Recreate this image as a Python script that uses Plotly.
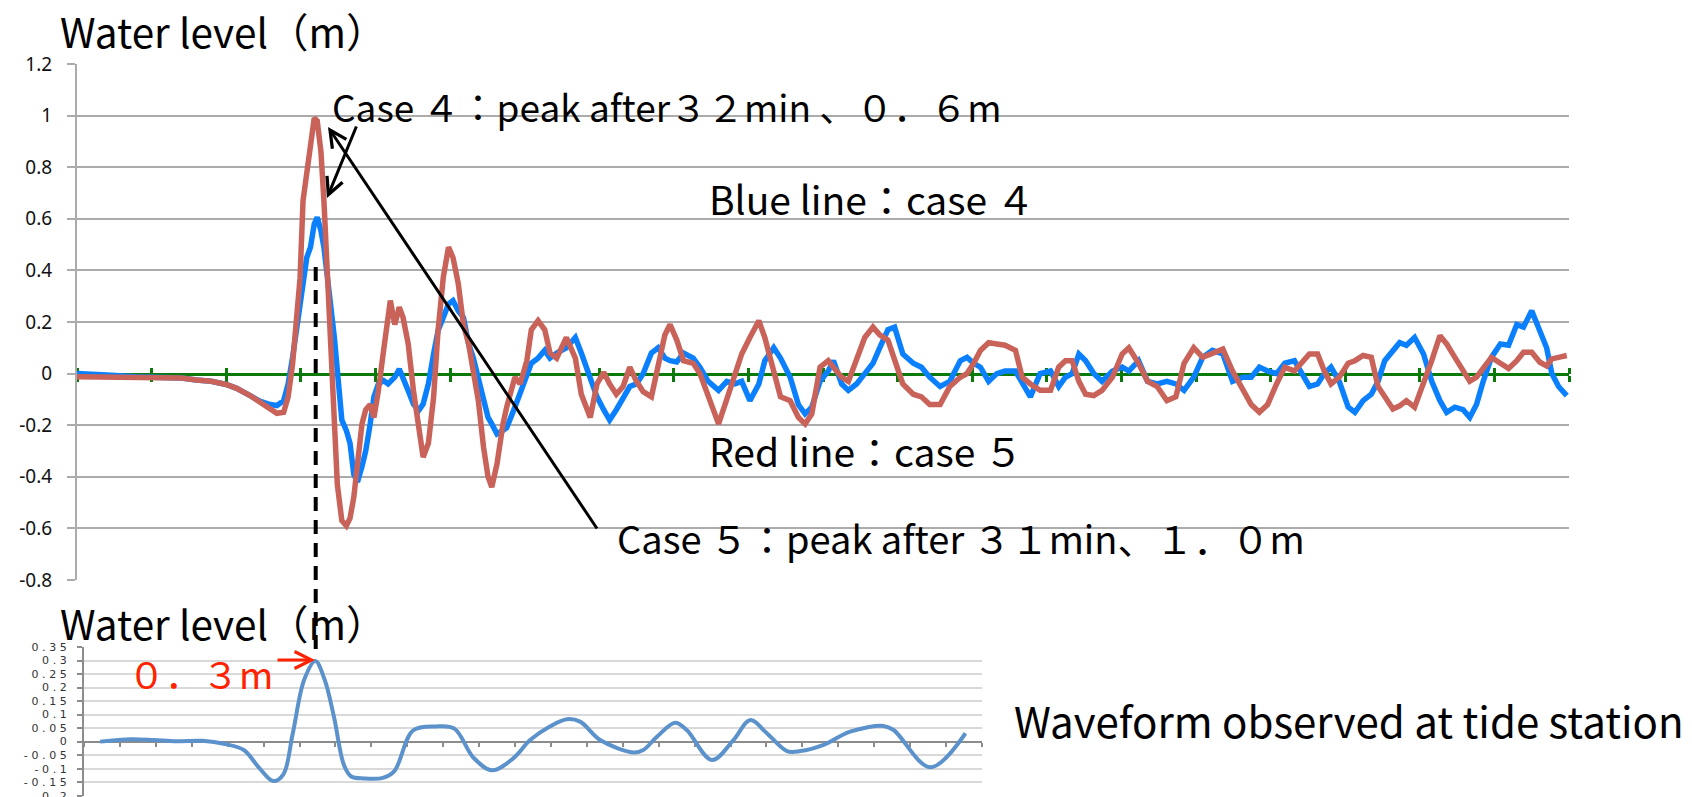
import plotly.graph_objects as go

# Browser body has an 8px default margin: the figure is sized so that it ends
# exactly at the 1692x797 viewport edge, and all pixel positions below are
# given in viewport pixels.
VIEW_W, VIEW_H = 1692, 797
OFF = 8
W, H = VIEW_W - OFF, VIEW_H - OFF

# ---------------- data: simulated water level (upper chart) ----------------
minutes = [
    0, 2, 4, 8, 12, 14, 16, 18, 20, 21.4,
    23.2, 24.5, 25.9, 26.8, 27.7, 28.3, 28.9, 29.4, 29.9, 30.3,
    30.8, 31.3, 31.8, 32.2, 32.7, 33.1, 33.6, 34.0, 34.5, 34.9,
    35.5, 36.1, 36.6, 37.1, 37.6, 38.2, 38.7, 39.3, 39.8, 40.4,
    41.1, 41.7, 42.0, 42.6, 43.2, 43.7, 44.4, 45.1, 45.8, 46.4,
    47.1, 47.8, 48.4, 49.1, 49.8, 50.4, 51.1, 51.8, 52.5, 53.1,
    53.8, 54.5, 55.1, 55.6, 56.3, 57.1, 57.6, 58.7, 59.4, 60.3,
    60.9, 61.8, 62.7, 63.4, 64.3, 65.6, 66.8, 67.6, 68.8, 69.7,
    70.6, 71.4, 72.3, 73.2, 74.1, 75.0, 75.9, 77.0, 77.9, 78.8,
    79.5, 80.4, 81.3, 82.6, 83.5, 84.6, 86.0, 87.1, 88.2, 89.1,
    90.2, 91.4, 92.2, 93.4, 94.3, 95.6, 96.7, 97.6, 98.5, 99.6,
    100.7, 101.4, 102.5, 103.4, 104.5, 105.6, 106.7, 107.6, 108.7, 109.6,
    110.7, 112.1, 113.2, 114.3, 115.7, 117.0, 118.4, 119.3, 120.2, 121.1,
    122.2, 123.3, 124.4, 125.8, 126.7, 127.8, 129.1, 130.5, 131.6, 132.5,
    133.4, 134.3, 135.2, 136.3, 137.4, 138.8, 140.1, 141.0, 142.3, 143.5,
    144.8, 146.1, 147.3, 148.4, 149.7, 150.9, 152.2, 153.6, 154.9, 156.3,
    157.4, 158.5, 159.6, 160.8, 161.9, 163.2, 165.2, 166.3, 167.2, 168.1,
    169.2, 170.4, 171.3, 172.4, 173.5, 174.4, 175.3, 176.4, 177.3, 178.2,
    179.3, 180.5, 181.6, 182.7, 183.6, 184.7, 185.8, 186.7, 187.6, 188.5,
    189.6, 190.8, 191.9, 193.0, 193.9, 195.0, 196.1, 197.0, 197.7, 198.6, 199.7,
]

case4_level = [
    0.0, 0.0, -0.005, -0.012, -0.012, -0.017, -0.025, -0.03, -0.042, -0.057,
    -0.085, -0.107, -0.12, -0.124, -0.105, -0.04, 0.063, 0.167, 0.26, 0.37,
    0.45, 0.49, 0.58, 0.606, 0.554, 0.49, 0.37, 0.26, 0.14, 0.012,
    -0.18, -0.22, -0.27, -0.39, -0.42, -0.36, -0.30, -0.195, -0.09, -0.04,
    -0.027, -0.04, -0.03, -0.014, 0.018, -0.014, -0.066, -0.118, -0.143, -0.118,
    -0.04, 0.076, 0.167, 0.218, 0.27, 0.283, 0.244, 0.218, 0.115, 0.063,
    -0.014, -0.105, -0.17, -0.195, -0.234, -0.22, -0.21, -0.13, -0.08, -0.014,
    0.04, 0.06, 0.09, 0.06, 0.08, 0.10, 0.14, 0.08, -0.014, -0.09,
    -0.14, -0.18, -0.14, -0.09, -0.05, -0.04, 0.0, 0.08, 0.10, 0.06,
    0.05, 0.045, 0.08, 0.06, 0.025, -0.03, -0.065, -0.03, -0.04, -0.03,
    -0.105, -0.04, 0.05, 0.10, 0.06, -0.014, -0.12, -0.156, -0.13, -0.03,
    0.01, 0.05, -0.04, -0.065, -0.04, 0.0, 0.04, 0.10, 0.17, 0.18,
    0.076, 0.04, 0.025, -0.014, -0.05, -0.03, 0.05, 0.063, 0.04, 0.025,
    -0.03, 0.0, 0.01, 0.01, -0.04, -0.09, 0.0, 0.01, -0.05, -0.014,
    0.0, 0.076, 0.05, 0.0, -0.03, 0.01, 0.025, 0.01, 0.05, -0.03,
    -0.04, -0.03, -0.04, -0.065, -0.014, 0.063, 0.09, 0.076, -0.03, -0.014,
    -0.014, 0.025, 0.01, 0.0, 0.04, 0.05, -0.05, -0.04, 0.0, 0.025,
    -0.03, -0.13, -0.15, -0.105, -0.08, -0.03, 0.05, 0.09, 0.12, 0.11,
    0.14, 0.076, -0.03, -0.105, -0.15, -0.13, -0.14, -0.17, -0.12, -0.03,
    0.063, 0.115, 0.11, 0.19, 0.18, 0.244, 0.167, 0.10, 0.0, -0.05, -0.085,
]

case5_level = [
    -0.012, -0.012, -0.012, -0.012, -0.013, -0.017, -0.025, -0.03, -0.042, -0.057,
    -0.085, -0.11, -0.14, -0.154, -0.15, -0.09, 0.037, 0.19, 0.37, 0.67,
    0.79, 0.90, 0.99, 0.98, 0.86, 0.67, 0.37, 0.063, -0.195, -0.43,
    -0.57, -0.59, -0.56, -0.48, -0.35, -0.195, -0.14, -0.12, -0.17, -0.066,
    0.09, 0.244, 0.283, 0.19, 0.257, 0.218, 0.115, -0.066, -0.22, -0.324,
    -0.27, -0.092, 0.167, 0.373, 0.49, 0.45, 0.35, 0.19, 0.115, 0.012,
    -0.105, -0.286, -0.40, -0.44, -0.35, -0.195, -0.13, -0.014, -0.04, 0.05,
    0.17, 0.205, 0.17, 0.08, 0.06, 0.14, 0.06, -0.08, -0.17, -0.04,
    0.005, -0.04, -0.08, -0.05, 0.025, -0.03, -0.07, -0.09, 0.025, 0.15,
    0.19, 0.13, 0.05, 0.04, 0.0, -0.08, -0.195, -0.10, 0.0, 0.076,
    0.14, 0.205, 0.14, 0.0, -0.09, -0.105, -0.17, -0.195, -0.156, 0.025,
    0.05, 0.025, -0.014, -0.03, 0.05, 0.14, 0.18, 0.15, 0.13, 0.05,
    -0.04, -0.08, -0.09, -0.12, -0.12, -0.05, -0.014, 0.0, 0.04, 0.09,
    0.12, 0.115, 0.11, 0.09, -0.014, -0.04, -0.065, -0.065, 0.025, 0.05,
    0.05, -0.03, -0.08, -0.085, -0.065, -0.014, 0.076, 0.10, 0.04, -0.03,
    -0.05, -0.105, -0.09, 0.04, 0.10, 0.063, 0.076, 0.095, 0.01, -0.065,
    -0.12, -0.15, -0.12, -0.04, 0.025, 0.01, 0.076, 0.076, 0.01, -0.04,
    -0.014, 0.04, 0.05, 0.07, 0.063, -0.05, -0.09, -0.137, -0.125, -0.105,
    -0.13, -0.04, 0.05, 0.147, 0.115, 0.063, 0.01, -0.03, -0.014, 0.02,
    0.063, 0.04, 0.02, 0.05, 0.083, 0.083, 0.044, 0.03, 0.057, 0.063, 0.07,
]

assert len(minutes) == len(case4_level) == len(case5_level)

top_y_ticks = [1.2, 1.0, 0.8, 0.6, 0.4, 0.2, 0.0, -0.2, -0.4, -0.6, -0.8]
top_y_labels = ["1.2", "1", "0.8", "0.6", "0.4", "0.2", "0", "-0.2", "-0.4", "-0.6", "-0.8"]
top_x_ticks = list(range(0, 201, 10))

# ---------------- data: observed waveform (lower chart) ----------------
tide_x = [
    0.45, 1.31, 1.94, 2.57, 3.3, 3.93, 4.45, 4.87, 5.27, 5.55,
    5.81, 6.13, 6.44, 6.70, 6.96, 7.23, 7.43, 7.8, 8.32, 8.64,
    9.16, 9.79, 10.31, 10.84, 11.36, 11.95, 12.42, 12.97, 13.44, 13.81,
    14.37, 15.29, 15.57, 15.95, 16.46, 16.78, 17.48, 18.08, 18.55, 19.01,
    19.57, 19.94, 20.59, 21.33, 22.26, 22.54, 23.56, 24.54,
]
tide_level = [
    0.0, 0.009, 0.006, 0.001, 0.003, -0.009, -0.031, -0.096, -0.146, -0.121,
    0.029, 0.229, 0.298, 0.229, 0.091, -0.084, -0.128, -0.136, -0.134, -0.109,
    0.041, 0.056, 0.048, -0.059, -0.106, -0.062, 0.006, 0.056, 0.083, 0.074,
    0.006, -0.04, -0.031, 0.018, 0.07, 0.043, -0.068, 0.006, 0.08, 0.031,
    -0.035, -0.035, -0.012, 0.037, 0.058, 0.043, -0.095, 0.031,
]
assert len(tide_x) == len(tide_level)

low_y_ticks = [0.35, 0.3, 0.25, 0.2, 0.15, 0.1, 0.05, 0.0, -0.05, -0.1, -0.15, -0.2]
low_y_labels = ["0.35", "0.3", "0.25", "0.2", "0.15", "0.1", "0.05", "0", "-0.05", "-0.1", "-0.15", "-0.2"]
low_x_ticks = list(range(0, 26))

# ---------------- layout helpers (viewport pixel -> paper) ----------------
def fx(px):
    return (px - OFF) / W


def fy(py):
    return 1 - (py - OFF) / H


TOP_RANGE = [-0.8, 1.2]
TOP_DOM_X = [fx(77), fx(1569)]
TOP_DOM_Y = [fy(580), fy(64)]
LOW_RANGE = [-0.2, 0.35]
LOW_DOM_X = [fx(84), fx(982)]
LOW_DOM_Y = [fy(795.7), fy(647)]


def zero_pos(dom, rng):
    return dom[0] + (0 - rng[0]) / (rng[1] - rng[0]) * (dom[1] - dom[0])


top_zero = zero_pos(TOP_DOM_Y, TOP_RANGE)
low_zero = zero_pos(LOW_DOM_Y, LOW_RANGE)

BLUE = "#0a80ff"
RED = "#c9635a"
GREEN = "#0b7a0b"
GRID = "#ababab"
JP = "Noto Sans CJK JP"

fig = go.Figure()

fig.add_trace(go.Scatter(x=minutes, y=case4_level, mode="lines",
                         line=dict(color=BLUE, width=5.5), xaxis="x", yaxis="y",
                         showlegend=False, hoverinfo="skip"))
fig.add_trace(go.Scatter(x=minutes, y=case5_level, mode="lines",
                         line=dict(color=RED, width=5.5), xaxis="x", yaxis="y",
                         showlegend=False, hoverinfo="skip"))
# empty trace so the overlay axis carrying the upward zero-line ticks is drawn
fig.add_trace(go.Scatter(x=[None], y=[None], mode="lines", xaxis="x3", yaxis="y",
                         showlegend=False, hoverinfo="skip"))
fig.add_trace(go.Scatter(x=tide_x, y=tide_level, mode="lines",
                         line=dict(color="#5b92cc", width=4, shape="spline", smoothing=1.0),
                         xaxis="x2", yaxis="y2", showlegend=False, hoverinfo="skip"))

fig.update_layout(
    width=W, height=H,
    margin=dict(l=0, r=0, t=0, b=0, autoexpand=False),
    paper_bgcolor="white", plot_bgcolor="white",
    showlegend=False,
    # upper chart
    xaxis=dict(domain=TOP_DOM_X, range=[0, 200], anchor="free", position=top_zero,
               automargin=False,
               showgrid=False, zeroline=False, showline=True, linecolor=GREEN, linewidth=3,
               tickmode="array", tickvals=top_x_ticks, ticks="outside", ticklen=6,
               tickwidth=3, tickcolor=GREEN, showticklabels=False, layer="below traces"),
    xaxis3=dict(domain=TOP_DOM_X, range=[0, 200], anchor="free", position=top_zero,
                automargin=False,
                overlaying="x", side="top", showgrid=False, zeroline=False, showline=False,
                tickmode="array", tickvals=top_x_ticks, ticks="outside", ticklen=6,
                tickwidth=3, tickcolor=GREEN, showticklabels=False, layer="below traces"),
    yaxis=dict(domain=TOP_DOM_Y, range=TOP_RANGE, anchor="x", position=TOP_DOM_X[0],
               automargin=False,
               tickmode="array", tickvals=top_y_ticks, ticktext=top_y_labels,
               showgrid=True, gridcolor=GRID, gridwidth=2, zeroline=False,
               showline=True, linecolor=GRID, linewidth=2,
               ticks="outside", ticklen=8, tickwidth=2, tickcolor=GRID,
               ticklabelstandoff=11,
               tickfont=dict(family="Noto Sans", size=19, color="#111")),
    # lower chart
    xaxis2=dict(domain=LOW_DOM_X, range=[0, 25], anchor="free", position=low_zero,
                automargin=False,
                showgrid=False, zeroline=False, showline=True, linecolor="#8c8c8c",
                linewidth=2, tickmode="array", tickvals=low_x_ticks, ticks="outside",
                ticklen=4, tickwidth=1.5, tickcolor="#8c8c8c", showticklabels=False,
                layer="below traces"),
    yaxis2=dict(domain=LOW_DOM_Y, range=LOW_RANGE, anchor="x2",
                automargin=False, ticklabeloverflow="allow",
                tickmode="array", tickvals=low_y_ticks,
                ticktext=["\u2004".join(s) for s in low_y_labels],
                showgrid=True, gridcolor="#d9d9d9", gridwidth=2, zeroline=False,
                showline=True, linecolor="#8c8c8c", linewidth=2,
                ticks="outside", ticklen=5, tickwidth=1.5, tickcolor="#8c8c8c",
                ticklabelstandoff=8,
                tickfont=dict(family="DejaVu Sans", size=11, color="#333")),
)

# dashed guide line linking the two peaks
fig.add_shape(type="line", xref="paper", yref="paper",
              x0=fx(315.7), x1=fx(315.7), y0=fy(267), y1=fy(658),
              line=dict(color="black", width=4, dash="14px,9px"), layer="above")

annotations = [
    dict(text="Water level（m）", x=fx(58), y=fy(30), size=40.5, color="black"),
    dict(text="Water level（m）", x=fx(58), y=fy(622), size=40.5, color="black"),
    dict(text="Case ４：peak after３２min 、０．６m", x=fx(330), y=fy(106), size=37, color="black"),
    dict(text="Blue line：case ４", x=fx(707), y=fy(198), size=39, color="black"),
    dict(text="Red line：case ５", x=fx(707), y=fy(450), size=39, color="black"),
    dict(text="Case ５：peak after ３１min、１．０m", x=fx(615), y=fy(537), size=38, color="black"),
    dict(text="Waveform observed at tide station", x=fx(1012), y=fy(719), size=42, color="black"),
    dict(text="０．３m", x=fx(126), y=fy(673), size=37, color="#ff2200"),
]
for a in annotations:
    fig.add_annotation(text=a["text"], xref="paper", yref="paper", x=a["x"], y=a["y"],
                       xanchor="left", yanchor="middle", showarrow=False,
                       font=dict(family=JP, size=a["size"], color=a["color"]))

# arrows
arrows = [
    dict(head=(328, 127), tail=(598, 530), color="black"),
    dict(head=(327, 198), tail=(357, 125), color="black"),
    dict(head=(315, 660), tail=(276, 660), color="#ff2200"),
]
for ar in arrows:
    hx, hy = ar["head"]
    tx, ty = ar["tail"]
    fig.add_annotation(xref="paper", yref="paper", x=fx(hx), y=fy(hy),
                       ax=tx - hx, ay=ty - hy, axref="pixel", ayref="pixel",
                       text="", showarrow=True, arrowhead=5, arrowsize=1.1,
                       arrowwidth=3, arrowcolor=ar["color"], standoff=0, startstandoff=0)

fig.write_html("out.html")
